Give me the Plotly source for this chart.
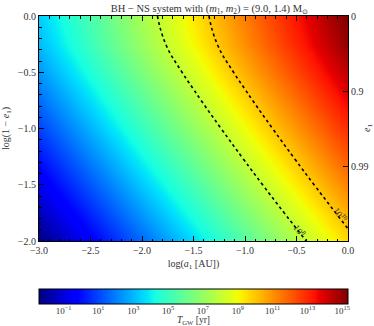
import numpy as np
import plotly.graph_objects as go

# ---- data ----
log_a = [-3.0, -2.5, -2.0, -1.5, -1.0, -0.5, 0.0]              # log(a1 [AU])
logT_circular = [3.4, 5.4, 7.4, 9.4, 11.4, 13.4, 15.4]          # log10 T_GW along top edge (e1 = 0)
log_1me = [0.0, -0.25, -0.5, -0.75, -1.0, -1.25, -1.5, -1.75, -2.0]  # log(1 - e1)
ecc_shift = [0.0, -0.32, -0.955, -1.694, -2.47, -3.266, -4.084, -4.922, -5.774]  # change of log10 T with e1
contour_levels = [8, 10]
contour_label_text = ["10<sup>8</sup>", "10<sup>10</sup>"]
contour_label_x = [-0.47, -0.075]
contour_label_y = [-1.90, -1.76]
cbar_tick_exp = [-1, 1, 3, 5, 7, 9, 11, 13, 15]
e_tick_pos = [0, -1, -2]
e_tick_text = ["0", "0.9", "0.99"]
zmin, zmax = -2.41, 15.33

z = np.array(ecc_shift)[:, None] + np.array(logT_circular)[None, :]

# matplotlib "jet" colormap
stops = [0, 0.11, 0.125, 0.34, 0.35, 0.375, 0.64, 0.65, 0.66, 0.89, 0.91, 1.0]
r = np.interp(stops, [0, 0.35, 0.66, 0.89, 1], [0, 0, 1, 1, 0.5])
g = np.interp(stops, [0, 0.125, 0.375, 0.64, 0.91, 1], [0, 0, 1, 1, 0, 0])
b = np.interp(stops, [0, 0.11, 0.34, 0.65, 1], [0.5, 1, 1, 0, 0])
jet = [[s, f"rgb({int(round(rr*255))},{int(round(gg*255))},{int(round(bb*255))})"]
       for s, rr, gg, bb in zip(stops, r, g, b)]

FONT = "Liberation Serif"
TXT = "#333333"

# layout geometry (pixels)
W, H = 374, 326
M_T, M_B, M_L, M_R = 16, 6, 39, 26
PLOT_BOTTOM = 241
CB_TOP, CB_THICK = 289, 15
paper_h = H - M_T - M_B
frac = lambda py: (H - M_B - py) / paper_h

fig = go.Figure()
fig.add_trace(go.Heatmap(
    x=log_a, y=log_1me, z=z, zsmooth="best", colorscale=jet,
    zmin=zmin, zmax=zmax, hoverinfo="skip",
    colorbar=dict(
        orientation="h", x=0.5, xanchor="center", y=frac(CB_TOP), yanchor="top",
        lenmode="pixels", len=W - M_L - M_R, thickness=CB_THICK, thicknessmode="pixels",
        outlinewidth=1, outlinecolor="black", xpad=0, ypad=0,
        showticklabels=False, ticks="",
    ),
))
fig.add_trace(go.Contour(
    x=log_a, y=log_1me, z=z, showscale=False, hoverinfo="skip",
    contours=dict(coloring="none", start=contour_levels[0], end=contour_levels[-1],
                  size=contour_levels[1] - contour_levels[0], showlabels=False),
    line=dict(color="black", width=1.6, dash="3px,3px", smoothing=1.3),
))
# empty traces so that the secondary axes (eccentricity, colour-bar scale) are drawn
fig.add_trace(go.Scatter(x=[], y=[], yaxis="y2", hoverinfo="skip", showlegend=False))
fig.add_trace(go.Scatter(x=[], y=[], xaxis="x2", hoverinfo="skip", showlegend=False))

for txt, xx, yy in zip(contour_label_text, contour_label_x, contour_label_y):
    fig.add_annotation(x=xx, y=yy, xref="x", yref="y", text=txt, showarrow=False,
                       textangle=55, font=dict(family=FONT, size=9, color="#222"))

# tick labels and title of the eccentricity axis (right side)
for pos, lab in zip(e_tick_pos, e_tick_text):
    fig.add_annotation(x=1, y=pos, xref="x domain", yref="y2", text=lab, showarrow=False,
                       xanchor="left", yanchor="middle", xshift=1,
                       font=dict(family=FONT, size=10, color=TXT))
fig.add_annotation(x=1, y=0.5, xref="x domain", yref="y domain", text="<i>e</i><sub>1</sub>",
                   showarrow=False, textangle=-90, xanchor="left", yanchor="middle",
                   xshift=11, font=dict(family=FONT, size=10, color=TXT))
# colour-bar title
fig.add_annotation(x=0.5, y=0, xref="x domain", yref="paper", text="<i>T</i><sub>GW</sub> [yr]",
                   showarrow=False, xanchor="center", yanchor="middle", yshift=0,
                   font=dict(family=FONT, size=9.5, color=TXT))

axis_common = dict(showgrid=False, zeroline=False, ticks="inside", ticklen=5,
                   tickcolor="black", linecolor="black", linewidth=1, automargin=False,
                   tickfont=dict(family=FONT, size=10, color=TXT))

fig.update_layout(
    width=W, height=H,
    margin=dict(l=M_L, r=M_R, t=M_T, b=M_B),
    paper_bgcolor="white", plot_bgcolor="rgba(0,0,0,0)",
    showlegend=False,
    title=dict(text="BH − NS system with (<i>m</i><sub>1</sub>, <i>m</i><sub>2</sub>) = (9.0, 1.4) M<sub>⊙</sub>",
               x=0.56, xanchor="center", y=0.975, yanchor="middle",
               font=dict(family=FONT, size=10.5, color=TXT)),
    xaxis=dict(range=[-3, 0], dtick=0.5, tickformat=".1f", mirror="ticks",
               minor=dict(dtick=0.1, ticks="inside", ticklen=2.5, tickcolor="black"),
               title=dict(text="log(<i>a</i><sub>1</sub> [AU])", standoff=4,
                          font=dict(family=FONT, size=10, color=TXT)),
               **axis_common),
    yaxis=dict(range=[-2, 0], dtick=0.5, tickformat=".1f", mirror=True,
               domain=[frac(PLOT_BOTTOM), 1],
               minor=dict(dtick=0.1, ticks="inside", ticklen=2.5, tickcolor="black"),
               title=dict(text="log(1 − <i>e</i><sub>1</sub>)", standoff=6,
                          font=dict(family=FONT, size=10, color=TXT)),
               **axis_common),
    yaxis2=dict(overlaying="y", side="right", range=[-3, 0], tickvals=e_tick_pos,
                showticklabels=False, showline=True, anchor="x",
                **axis_common),
    # scale of the colour bar (log10 T_GW), drawn along its lower edge
    xaxis2=dict(anchor="free", position=frac(CB_TOP + CB_THICK), side="bottom",
                range=[zmin, zmax], tickvals=cbar_tick_exp,
                ticktext=[f"10<sup>{'−' if e < 0 else ''}{abs(e)}</sup>" for e in cbar_tick_exp],
                showgrid=False, zeroline=False, showline=False, automargin=False,
                ticks="inside", ticklen=4, tickcolor="black", ticklabelstandoff=0,
                tickfont=dict(family=FONT, size=9, color=TXT)),
)

# remove the browser's default 8px page margin so the figure sits at the window corner
fig.write_html("out.html", config={"displayModeBar": False},
               post_script="document.body.style.margin='0';")
